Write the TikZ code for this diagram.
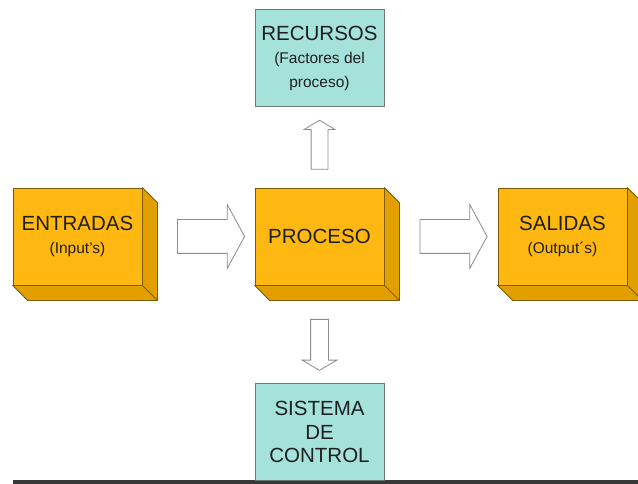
\documentclass[tikz,border=0pt]{standalone}
\usepackage{fontspec}
\setmainfont{Liberation Sans}
\usetikzlibrary{shapes.arrows,calc}

\definecolor{boxfront}{RGB}{255,184,18}
\definecolor{boxside}{RGB}{226,160,0}
\definecolor{boxline}{RGB}{125,92,0}
\definecolor{resfill}{RGB}{164,226,218}
\definecolor{resline}{RGB}{110,120,118}
\newcommand\bigtxt{\fontsize{20.5}{23.5}\selectfont}
\newcommand\smalltxt{\fontsize{15.5}{23.5}\selectfont}

\begin{document}
\begin{tikzpicture}
  [x=1pt, y=-1pt,
   every node/.style={inner sep=0pt, align=center, text=black!88, font=\bigtxt},
   cube/.style={rectangle, fill=boxfront, draw=boxline, line width=0.8pt,
                minimum width=129pt, minimum height=97pt},
   tealbox/.style={rectangle, fill=resfill, draw=resline, line width=0.8pt,
                   minimum width=129pt, minimum height=97pt},
   blockarrow/.style={single arrow, draw=black!45, fill=white, line width=0.8pt,
                      inner xsep=0pt}]

  \useasboundingbox (0,0) rectangle (638,484);

  % bottom rule
  \draw[line width=3.5pt, black!78] (13,482) -- (638,482);

  % boxes
  \node[cube] (entradas) at (77.5,236.5) {ENTRADAS\\\smalltxt (Input's)};
  \node[cube] (proceso) at (319.5,236.5) {PROCESO};
  \node[cube] (salidas) at (562.5,236.5) {SALIDAS\\\smalltxt (Output´s)};
  \node[tealbox] (recursos) at (319.5,58) {RECURSOS\\\smalltxt (Factores del\\\smalltxt proceso)};
  \node[tealbox] (control) at (319.5,432) {SISTEMA\\DE\\CONTROL};

  % depth of the boxes
  \foreach \n in {entradas,proceso,salidas}{
    \filldraw[fill=boxside, draw=boxline, line width=0.8pt, line join=round]
      (\n.north east) -- ++(15,15) -- ($(\n.south east)+(15,15)$)
      -- ($(\n.south west)+(15,15)$) -- (\n.south west) -- (\n.south east) -- cycle;
    \draw[boxline, line width=0.8pt] (\n.south east) -- ++(15,15);
  }

  % arrows
  \node[blockarrow, minimum height=67pt, inner ysep=16.5pt,
        single arrow head extend=15pt, single arrow tip angle=123]
    (in2pro) at ($(entradas.east)!0.5!(proceso.west)+(8,0)$) {};
  \node[blockarrow, minimum height=67pt, inner ysep=16.5pt,
        single arrow head extend=15pt, single arrow tip angle=123]
    (pro2out) at ($(proceso.east)!0.5!(salidas.west)+(8,0)$) {};
  \node[blockarrow, rotate=90, minimum height=49pt, inner ysep=8pt,
        single arrow head extend=7pt, single arrow tip angle=118]
    (pro2res) at ($(recursos.south)!0.5!(proceso.north)$) {};
  \node[blockarrow, rotate=-90, minimum height=51pt, inner ysep=8.5pt,
        single arrow head extend=8.5pt, single arrow tip angle=119]
    (pro2ctl) at ($(proceso.south)!0.5!(control.north)+(0,8)$) {};
\end{tikzpicture}
\end{document}
